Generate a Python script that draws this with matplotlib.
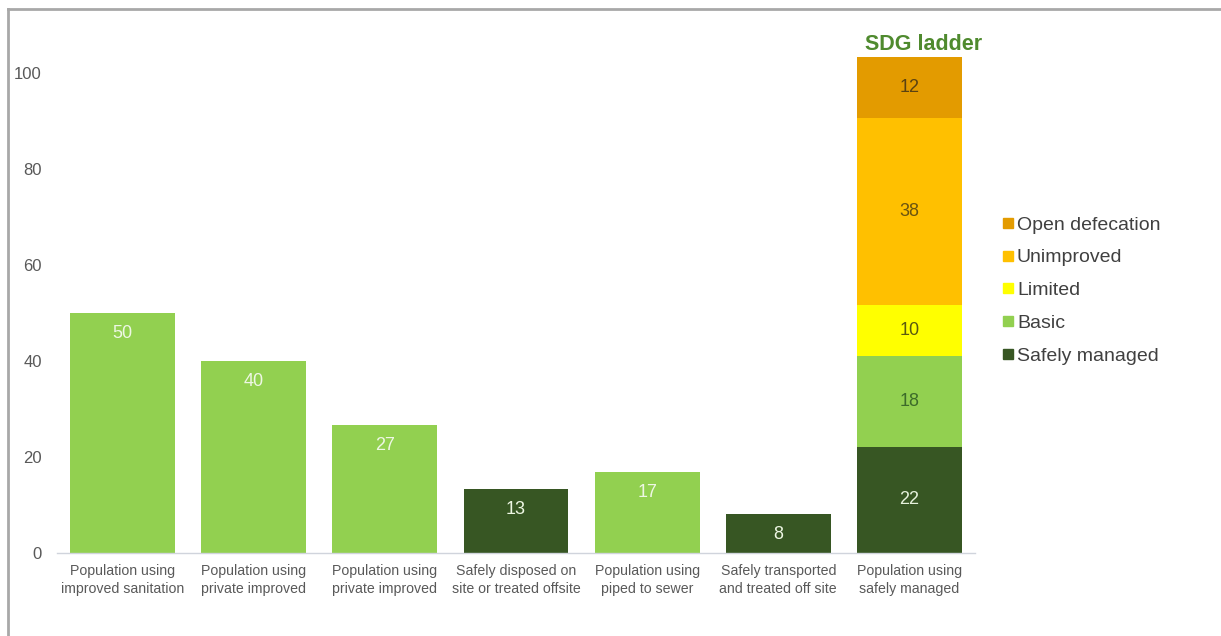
import matplotlib.pyplot as plt
import matplotlib as mpl
from matplotlib.lines import Line2D

# --- Data -------------------------------------------------------

categories = [
    "Population using\nimproved sanitation",
    "Population using\nprivate improved",
    "Population using\nprivate improved",
    "Safely disposed on\nsite or treated offsite",
    "Population using\npiped to sewer",
    "Safely transported\nand treated off site",
    "Population using\nsafely managed",
]
single_values = [50, 40, 26.7, 13.3, 16.9, 8.1]
single_labels = ["50", "40", "27", "13", "17", "8"]
single_kind = ["basic", "basic", "basic", "safe", "basic", "safe"]

ladder_names = ["Safely managed", "Basic", "Limited", "Unimproved", "Open defecation"]
ladder_values = [22.1, 19.0, 10.6, 39.0, 12.7]
ladder_labels = ["22", "18", "10", "38", "12"]

# --- Style ------------------------------------------------------

mpl.rcParams["font.family"] = ["Liberation Sans", "DejaVu Sans"]

light_green = "#92d050"
dark_green = "#375623"
ladder_colors = [dark_green, light_green, "#ffff00", "#ffc000", "#e39b00"]
ladder_text = ["#e6f2dc", "#3c6b2a", "#5a5a10", "#6b5410", "#5a4212"]

fig = plt.figure(figsize=(12.21, 6.36), dpi=100)
ax = fig.add_axes([0.0467, 0.1305, 0.7518, 0.7925])

width = 0.8
for i, v in enumerate(single_values):
    col = light_green if single_kind[i] == "basic" else dark_green
    ax.bar(i, v, width=width, color=col, edgecolor="none")
    ax.annotate(
        single_labels[i], (i, v), xytext=(0, -15), textcoords="offset points",
        ha="center", va="center", fontsize=13, color="#eef7e4",
    )

# stacked SDG ladder bar
x_stack = len(single_values)
bottom = 0
for name, v, col, lab, tc in zip(ladder_names, ladder_values, ladder_colors,
                                 ladder_labels, ladder_text):
    ax.bar(x_stack, v, width=width, bottom=bottom, color=col,
           edgecolor="none", label=name)
    ax.text(x_stack, bottom + v / 2, lab, ha="center", va="center",
            fontsize=13, color=tc)
    bottom += v

ax.annotate("SDG ladder", (x_stack - 0.335, bottom), xytext=(0, 9),
            textcoords="offset points", ha="left", va="center",
            fontsize=15.5, fontweight="bold", color="#4f8a2e")

ax.set_xlim(-0.5, len(categories) - 0.5)
ax.set_ylim(0, 105)
ax.set_yticks([0, 20, 40, 60, 80, 100])
ax.set_xticks(range(len(categories)))
ax.set_xticklabels(categories, fontsize=10.2, color="#595959", linespacing=1.35)
ax.tick_params(axis="both", length=0)
ax.tick_params(axis="y", labelsize=12, labelcolor="#595959", pad=11)
ax.tick_params(axis="x", pad=8)

for spine in ["top", "right", "left"]:
    ax.spines[spine].set_visible(False)
ax.spines["bottom"].set_color("#d0d4dc")
ax.spines["bottom"].set_linewidth(1.0)

handles, labels = ax.get_legend_handles_labels()
handles = [Line2D([], [], marker="s", linestyle="none", markersize=7,
                  color=h.patches[0].get_facecolor()) for h in handles]
leg = fig.legend(
    handles[::-1], labels[::-1], loc="upper left",
    bbox_to_anchor=(0.805, 0.688), frameon=False, fontsize=14,
    handletextpad=0.05, handlelength=0.8, labelspacing=0.78,
    labelcolor="#404040",
)

# outer frame (top and left edges)
fig.add_artist(Line2D([0.0066, 1.0], [0.986, 0.986], color="#a8a8a8",
                      linewidth=2, transform=fig.transFigure))
fig.add_artist(Line2D([0.0066, 0.0066], [0.0, 0.986], color="#a8a8a8",
                      linewidth=2, transform=fig.transFigure))

plt.savefig("out.png", dpi=100)
